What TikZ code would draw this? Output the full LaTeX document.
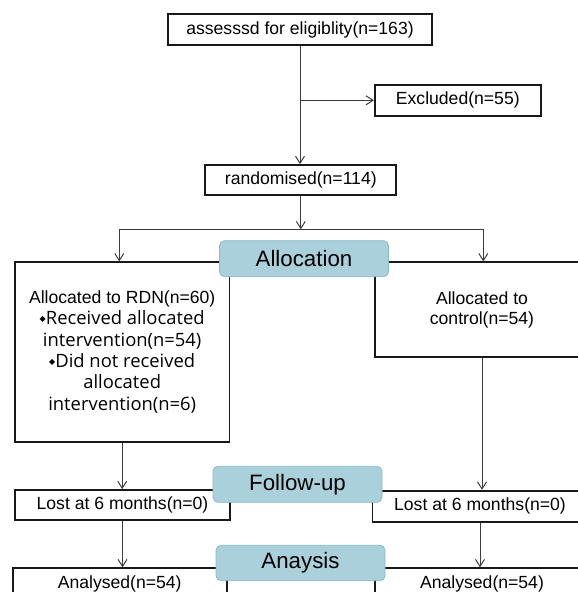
\documentclass[tikz,border=0pt]{standalone}
\usepackage{fontspec}
\setmainfont{Liberation Sans}
\newfontfamily\openfont{Open Sans}
\newfontfamily\dvsfont{DejaVu Sans}
\usetikzlibrary{arrows.meta,positioning}
\definecolor{stagefill}{RGB}{170,208,220}
\definecolor{stageedge}{RGB}{140,185,200}
\definecolor{linegray}{RGB}{60,60,60}
\newcommand{\bul}{\raisebox{3pt}{\dvsfont\fontsize{8}{8}\selectfont ◆}}

\begin{document}
\begin{tikzpicture}[x=1pt, y=-1pt,
  box/.style={draw=black!90, line width=1.8pt, fill=white, inner sep=0pt, minimum height=31pt, align=center, font=\fontsize{17.6}{20}\selectfont},
  stage/.style={draw=stageedge, fill=stagefill, line width=0.8pt, rounded corners=5pt, minimum width=169pt, minimum height=36pt, inner sep=0pt, font=\fontsize{22.3}{24}\selectfont},
  arr/.style={draw=linegray, line width=1pt, -{Straight Barb[length=7pt,width=9pt]}},
  link/.style={draw=linegray, line width=1pt}]
  \useasboundingbox (0,0) rectangle (578,592);
  \clip (0,0) rectangle (578,592);

  % Enrolment
  \node[box, minimum width=264pt] (assess) at (300,29.5) {assesssd for eligiblity(n=163)};
  \node[box, minimum width=166pt] (excl) at (457.8,100.3) {Excluded(n=55)};
  \node[box, minimum width=191pt, minimum height=30pt] (rand) at (300.8,180) {randomised(n=114)};

  % Allocation
  \node[box, minimum width=214.5pt, minimum height=179.4pt, font=\openfont\fontsize{18.4}{21.3}\selectfont] (rdn) at (122.2,352)
    {{\rmfamily\fontsize{17.6}{21.3}\selectfont Allocated to RDN(n=60)}\\\bul Received allocated\\intervention(n=54)\\\bul Did not received\\allocated\\intervention(n=6)};
  \node[box, minimum width=214pt, minimum height=94.4pt] (ctl) at (482,309.5) {Allocated to\\control(n=54)};

  % Follow-up
  \node[box, minimum width=215pt, minimum height=30pt] (lostl) at (122.5,505) {Lost at 6 months(n=0)};
  \node[box, minimum width=215pt] (lostr) at (480,506.2) {Lost at 6 months(n=0)};

  % Analysis
  \node[box, anchor=north, minimum width=214pt, text height=12.8pt, text depth=3.7pt, inner ysep=7.5pt] (anal) at (119.7,567.3) {Analysed(n=54)};
  \node[box, anchor=north, minimum width=214pt, text height=12.8pt, text depth=3.7pt, inner ysep=7.5pt] (anar) at (482,567.3) {Analysed(n=54)};

  % Connectors
  \coordinate (brk) at (assess.south |- excl.west);
  \coordinate (sl) at (119.3,229.3);
  \coordinate (sr) at (483.3,229.3);
  \draw[arr] (assess.south) -- (assess.south |- rand.north);
  \draw[arr] (brk) -- (excl.west);
  \draw[arr] (rand.south) -- (rand.south |- sl);
  \draw[link] (sl) -- (sr);
  \draw[arr] (sl) -- (sl |- rdn.north);
  \draw[arr] (sr) -- (sr |- ctl.north);
  \draw[arr] (rdn.south) -- (rdn.south |- lostl.north);
  \draw[arr] (ctl.south) -- (ctl.south |- lostr.north);
  \draw[arr] (lostl.south) -- (lostl.south |- anal.north);
  \draw[arr] (lostr.south) -- (lostr.south |- anar.north);

  % Stage labels
  \node[stage] (alloc) at (304,258.7) {Allocation};
  \node[stage] (follow) at (297.5,484.3) {Follow-up};
  \node[stage, minimum height=35.4pt] (analysis) at (300.5,563) {Anaysis};
\end{tikzpicture}
\end{document}
